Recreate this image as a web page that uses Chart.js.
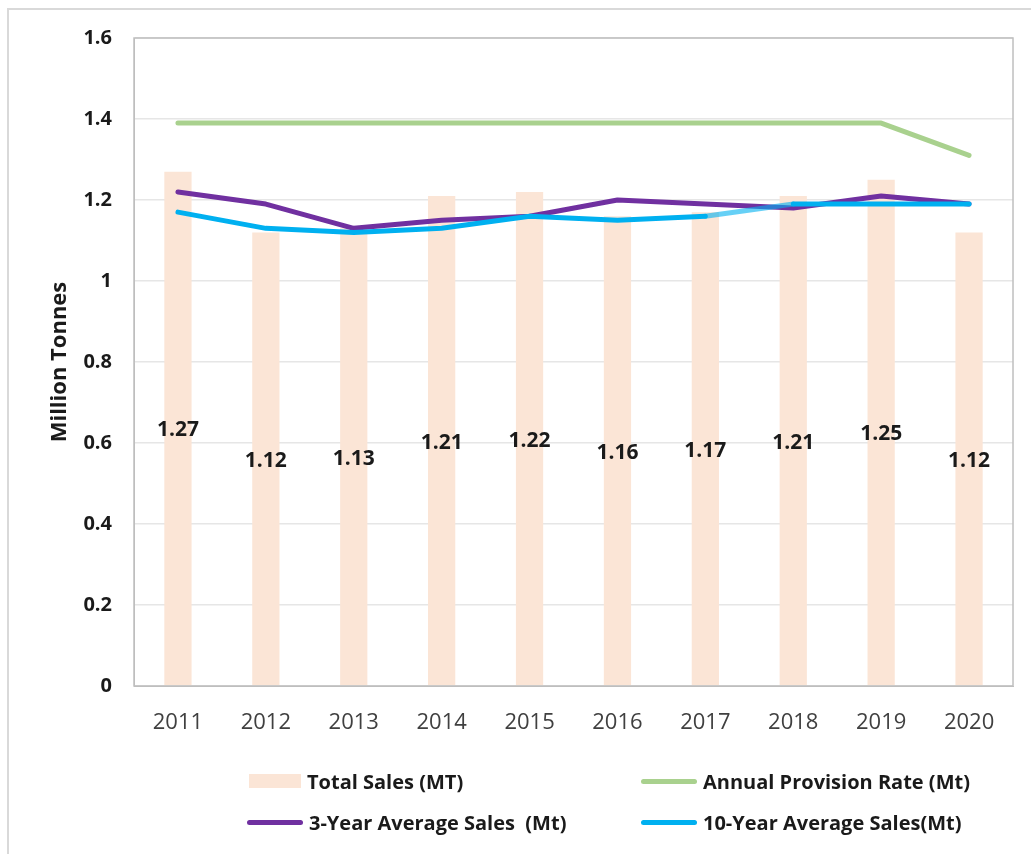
<!DOCTYPE html>
<html>
<head>
<meta charset="utf-8">
<script src="https://cdn.jsdelivr.net/npm/chart.js@4/dist/chart.umd.min.js"></script>
<style>
  html, body { margin:0; padding:0; background:#fff; }
  body { width:1031px; height:854px; position:relative; overflow:hidden; font-family:"Open Sans", sans-serif; }
  #frame { position:absolute; left:7px; top:8px; width:1040px; height:860px; border:2px solid #d9d9d9; box-sizing:border-box; }
  #wrap { position:absolute; left:0; top:0; width:1031px; height:854px; }
  .lg { position:absolute; display:flex; align-items:center; font-weight:700; font-size:20px; color:#1a1a1a; white-space:nowrap; }
  .lg .mk { margin-right:6px; }
</style>
</head>
<body>
<div id="frame"></div>
<div id="wrap"><canvas id="c" width="1031" height="854"></canvas></div>
<div id="legend"></div>
<script>
const years = ['2011','2012','2013','2014','2015','2016','2017','2018','2019','2020'];
const totalSales = [1.27, 1.12, 1.13, 1.21, 1.22, 1.16, 1.17, 1.21, 1.25, 1.12];
const provisionRate = [1.39, 1.39, 1.39, 1.39, 1.39, 1.39, 1.39, 1.39, 1.39, 1.31];
const avg3Year = [1.22, 1.19, 1.13, 1.15, 1.16, 1.20, 1.19, 1.18, 1.21, 1.19];
const avg10Year = [1.17, 1.13, 1.12, 1.13, 1.16, 1.15, 1.16, 1.19, 1.19, 1.19];

const barLabels = {
  id: 'barLabels',
  afterDatasetsDraw(chart) {
    const ctx = chart.ctx;
    const meta = chart.getDatasetMeta(0);
    ctx.save();
    ctx.font = 'bold 21px "Open Sans"';
    ctx.fillStyle = '#1a1a1a';
    ctx.textAlign = 'center';
    ctx.textBaseline = 'middle';
    meta.data.forEach((el, i) => {
      const v = chart.data.datasets[0].data[i];
      ctx.fillText(v.toFixed(2), el.x, (el.y + el.base) / 2 + 2);
    });
    ctx.restore();
  }
};
const plotBorder = {
  id: 'plotBorder',
  afterDraw(chart) {
    const a = chart.chartArea, ctx = chart.ctx;
    ctx.save();
    ctx.strokeStyle = '#bfbfbf';
    ctx.lineWidth = 1.5;
    ctx.strokeRect(a.left, a.top, a.right - a.left, a.bottom - a.top);
    ctx.restore();
  }
};

const chart = new Chart(document.getElementById('c'), {
  type: 'bar',
  data: {
    labels: years,
    datasets: [
      { type:'bar', label:'Total Sales (MT)', data: totalSales, backgroundColor:'#FBE5D6', borderWidth:0,
        barPercentage:0.31, categoryPercentage:1.0, order:5 },
      { type:'line', label:'Annual Provision Rate (Mt)', data: provisionRate, borderColor:'#A9D18E', backgroundColor:'#A9D18E',
        borderWidth:5, pointRadius:0, borderCapStyle:'round', borderJoinStyle:'round', tension:0, order:3 },
      { type:'line', label:'3-Year Average Sales  (Mt)', data: avg3Year, borderColor:'#7030A0', backgroundColor:'#7030A0',
        borderWidth:5, pointRadius:0, borderCapStyle:'round', borderJoinStyle:'round', tension:0, order:2 },
      { type:'line', label:'10-Year Average Sales(Mt)', data: avg10Year, borderColor:'#00B0F0', backgroundColor:'#00B0F0',
        borderWidth:5, pointRadius:0, borderCapStyle:'round', borderJoinStyle:'round', tension:0, order:1,
        segment: { borderColor: c => c.p0DataIndex === 6 ? 'rgba(0,176,240,0.6)' : undefined } }
    ]
  },
  options: {
    responsive:false,
    animation:false,
    layout: { padding: { left:0, right:18, top:38, bottom:108 } },
    plugins: { legend:{ display:false }, tooltip:{ enabled:false } },
    scales: {
      x: {
        grid: { display:false, drawTicks:false },
        border: { display:true, color:'#bfbfbf' },
        ticks: { color:'#404040', font:{ family:'"Open Sans"', size:22 }, padding:24, maxRotation:0 },
        afterFit(s) { s.height = 60; }
      },
      y: {
        min:0, max:1.6,
        grid: { color:'#e6e6e6', drawTicks:false, lineWidth:1.5 },
        border: { display:true, color:'#bfbfbf' },
        ticks: { stepSize:0.2, color:'#1a1a1a', font:{ family:'"Open Sans"', size:20, weight:'bold' }, padding:22,
                 callback: v => String(Math.round(v * 10) / 10) },
        title: { display:true, text:'Million Tonnes', color:'#1a1a1a', font:{ family:'"Open Sans"', size:22, weight:'bold' },
                 padding:{ top:47, bottom:0 } },
        afterFit(s) { s.width = 134; }
      }
    }
  },
  plugins: [barLabels, plotBorder]
});

// HTML legend built from datasets
const legendPos = [
  { left:249, top:781, mw:52 }, { left:641, top:781, mw:56 },
  { left:247, top:822, mw:56 }, { left:641, top:822, mw:56 }
];
const legend = document.getElementById('legend');
chart.data.datasets.forEach((ds, i) => {
  const p = legendPos[i];
  const d = document.createElement('div');
  d.className = 'lg';
  d.style.left = p.left + 'px';
  d.style.top = (p.top - 14) + 'px';
  d.style.height = '28px';
  const mk = document.createElement('span');
  mk.className = 'mk';
  mk.style.display = 'inline-block';
  mk.style.width = p.mw + 'px';
  if (ds.type === 'bar') { mk.style.height = '14px'; mk.style.background = ds.backgroundColor; }
  else { mk.style.height = '5px'; mk.style.borderRadius = '3px'; mk.style.background = ds.borderColor; }
  const t = document.createElement('span');
  t.textContent = ds.label;
  t.style.whiteSpace = 'pre';
  d.appendChild(mk); d.appendChild(t);
  legend.appendChild(d);
});
</script>
</body>
</html>
